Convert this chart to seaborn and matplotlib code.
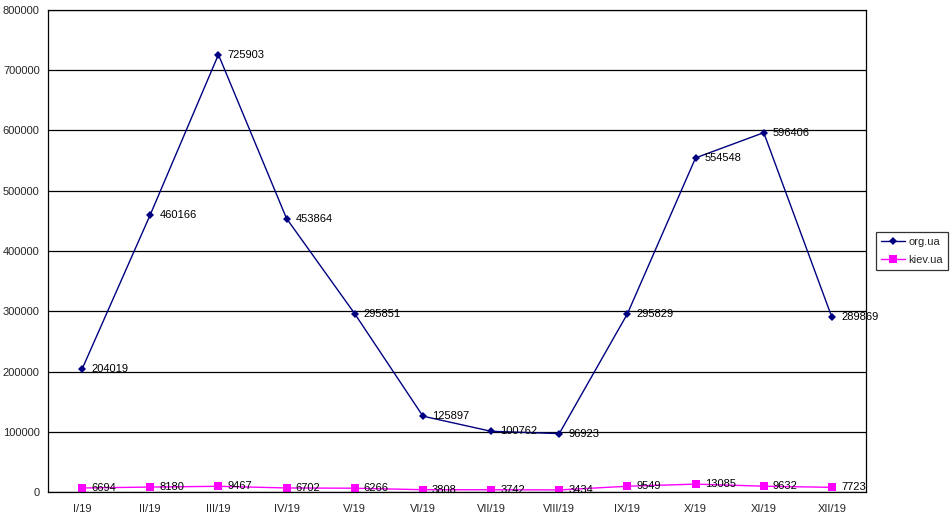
import pandas as pd
import numpy as np
import matplotlib
matplotlib.use("Agg")
import matplotlib.pyplot as plt
import seaborn as sns

months = ["I/19", "II/19", "III/19", "IV/19", "V/19", "VI/19",
          "VII/19", "VIII/19", "IX/19", "X/19", "XI/19", "XII/19"]
org_ua = [204019, 460166, 725903, 453864, 295851, 125897,
          100762, 96923, 295829, 554548, 596406, 289869]
kiev_ua = [6694, 8180, 9467, 6702, 6266, 3808,
           3742, 3434, 9549, 13085, 9632, 7723]

sns.set_style("white")
plt.rcParams['font.family'] = ['Liberation Sans', 'DejaVu Sans']

df = pd.DataFrame({
    "idx": list(range(len(months))) * 2,
    "value": org_ua + kiev_ua,
    "series": ["org.ua"] * len(months) + ["kiev.ua"] * len(months),
})

fig = plt.figure(figsize=(9.52, 5.16), dpi=100)
ax = fig.add_axes([48 / 952, 24 / 516, 818 / 952, 482 / 516])

palette = {"org.ua": "#000080", "kiev.ua": "#ff00ff"}
markers = {"org.ua": "D", "kiev.ua": "s"}
sns.lineplot(data=df, x="idx", y="value", hue="series", style="series",
             palette=palette, markers=markers, dashes=False, markersize=4.5,
             linewidth=1, markeredgewidth=0, ax=ax)
for l in ax.lines:
    if l.get_marker() == "s":
        l.set_markersize(5.5)

for series, vals in (("org.ua", org_ua), ("kiev.ua", kiev_ua)):
    for i, v in enumerate(vals):
        ax.annotate(str(v), (i, v), xytext=(6.5, 0), textcoords="offset points",
                    va="center", ha="left", fontsize=8, color="black")

ax.set_xlim(-0.5, len(months) - 0.5)
ax.set_ylim(0, 800000)
ax.set_yticks(range(0, 800001, 100000))
ax.set_yticklabels([str(v) for v in range(0, 800001, 100000)], fontsize=8)
ax.yaxis.grid(True, color="black", linewidth=0.9)
ax.set_axisbelow(True)

ax.set_xticks(range(len(months)))
ax.set_xticklabels(months, fontsize=8)
ax.set_xticks(np.arange(-0.5, len(months), 1), minor=True)
ax.tick_params(axis="x", which="major", length=0, pad=9)
ax.tick_params(axis="x", which="minor", length=4, width=0.9, direction="out", color="black")
ax.tick_params(axis="y", length=4, width=0.9, direction="out", color="black", pad=2)
ax.set_xlabel("")
ax.set_ylabel("")

for s in ax.spines.values():
    s.set_color("black")
    s.set_linewidth(0.9)
    s.set_visible(True)

handles, labels = ax.get_legend_handles_labels()
leg = ax.legend(handles, labels, loc="center left", bbox_to_anchor=(1.012, 0.5),
                frameon=True, fancybox=False, edgecolor="black", fontsize=8,
                handlelength=2.2, borderpad=0.45, labelspacing=0.75, handletextpad=0.3,
                borderaxespad=0)
leg.get_frame().set_linewidth(0.9)

fig.savefig("out.png", dpi=100)
